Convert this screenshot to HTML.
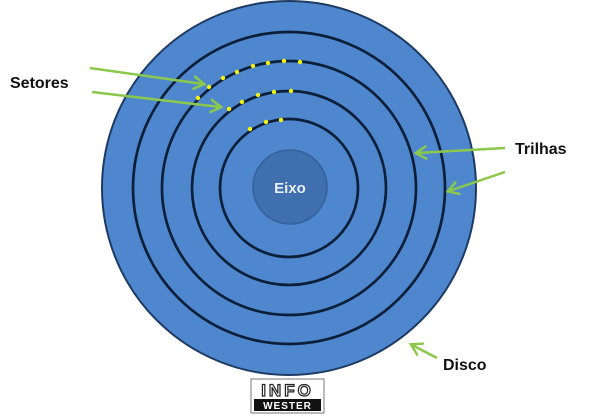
<!DOCTYPE html>
<html><head><style>
body{margin:0;background:#fff;width:600px;height:415px;overflow:hidden;font-family:"Liberation Sans",sans-serif}
</style></head><body>
<svg width="600" height="415" viewBox="0 0 600 415" xmlns="http://www.w3.org/2000/svg">
<defs><marker id="a" markerWidth="6" markerHeight="6" refX="4" refY="3" orient="auto" markerUnits="strokeWidth"><path d="M0,0.3 L4.5,3 L0,5.7" fill="none" stroke="#8cc84b" stroke-width="1"/></marker></defs>
<circle cx="289" cy="188" r="187" fill="#4f87cf" stroke="#1d3a63" stroke-width="2"/>
<g fill="none" stroke="#0c1f38" stroke-width="2.7">
<circle cx="289" cy="188" r="156"/><circle cx="289" cy="188" r="127"/><circle cx="289" cy="188" r="97"/><circle cx="289" cy="188" r="69"/>
</g>
<circle cx="290" cy="187" r="37" fill="#3f6fae" stroke="#35609a" stroke-width="1.5"/>
<text x="290" y="193" fill="#eaf0f8" font-size="15" font-weight="bold" text-anchor="middle">Eixo</text>
<g fill="#f2f20f">
<circle cx="198" cy="98" r="2.2"/><circle cx="209" cy="87" r="2.2"/><circle cx="223" cy="78" r="2.2"/><circle cx="237" cy="72" r="2.2"/><circle cx="253" cy="66" r="2.2"/><circle cx="268" cy="63" r="2.2"/><circle cx="284" cy="61" r="2.2"/><circle cx="300" cy="62" r="2.2"/>
<circle cx="229" cy="109" r="2.2"/><circle cx="242" cy="102" r="2.2"/><circle cx="258" cy="95" r="2.2"/><circle cx="274" cy="92" r="2.2"/><circle cx="291" cy="91" r="2.2"/>
<circle cx="250" cy="129" r="2.2"/><circle cx="266" cy="122" r="2.2"/><circle cx="281" cy="120" r="2.2"/>
</g>
<g stroke="#8cc84b" stroke-width="2.5" fill="none" marker-end="url(#a)">
<line x1="90" y1="68" x2="203" y2="84"/>
<line x1="92" y1="92" x2="220" y2="107"/>
<line x1="505" y1="148" x2="417" y2="153"/>
<line x1="505" y1="172" x2="449" y2="191"/>
<line x1="437" y1="358" x2="412" y2="345"/>
</g>
<g font-size="16" font-weight="bold" fill="#111">
<text x="10" y="88">Setores</text>
<text x="515" y="154">Trilhas</text>
<text x="443" y="370">Disco</text>
</g>
<rect x="251" y="379" width="73" height="34" fill="#fff" stroke="#777" stroke-width="1"/>
<text x="287.5" y="396" font-size="17" font-weight="bold" fill="#fff" stroke="#222" stroke-width="1.2" text-anchor="middle" letter-spacing="3">INFO</text>
<rect x="254" y="399" width="67" height="12" fill="#111"/>
<text x="287.5" y="409" font-size="10" font-weight="bold" fill="#fff" text-anchor="middle" letter-spacing="1">WESTER</text>
</svg>
</body></html>
